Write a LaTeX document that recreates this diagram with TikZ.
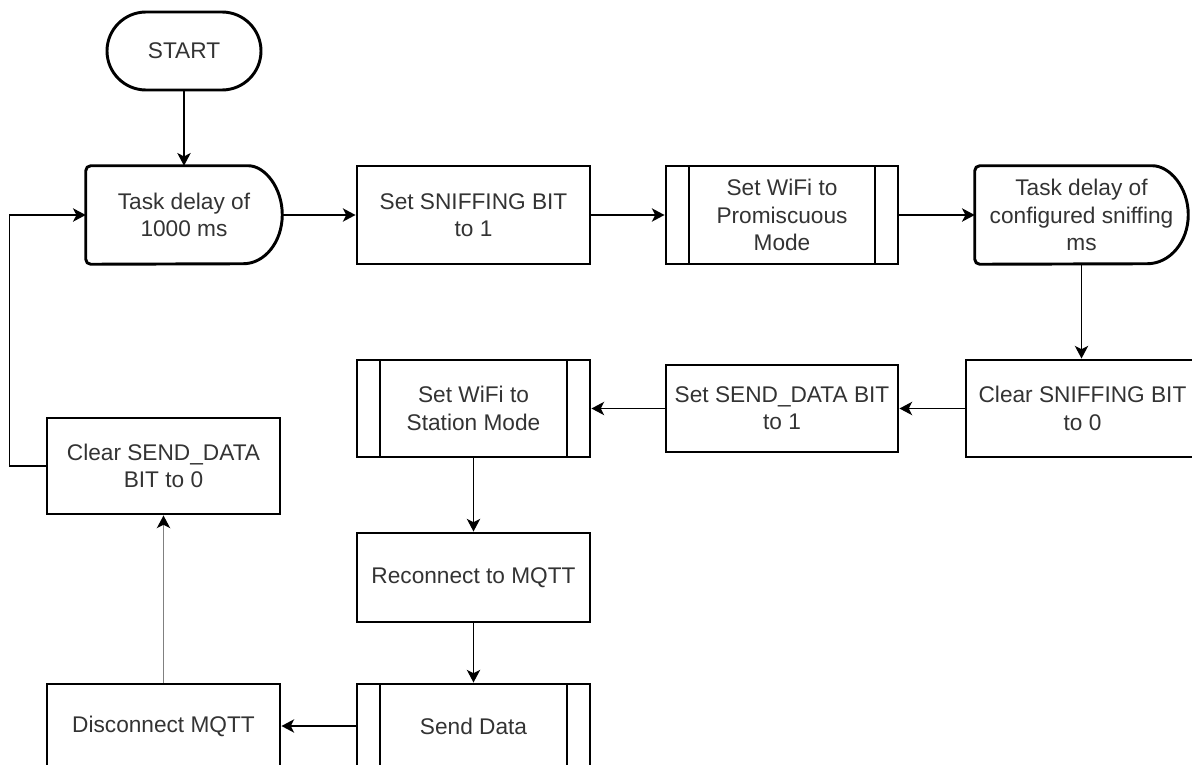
\documentclass[tikz,border=0pt]{standalone}
\usepackage{fontspec}
\setmainfont{Liberation Sans}
\usetikzlibrary{arrows.meta}
\newcommand\pxu{0.75pt}
% outline of a delay shape around an (undrawn) node: straight left side with
% small rounded corners, half-ellipse on the right
\newcommand\delayoutline[2]{%
  \draw[shapeline] ([xshift=-#2*\pxu]#1.north east)
    arc[start angle=90, end angle=-90, x radius=#2*\pxu, y radius=49*\pxu]
    [rounded corners=5*\pxu] -- (#1.south west) -- (#1.north west) -- cycle;}

\begin{document}
\begin{tikzpicture}[x=0.75pt,y=-0.75pt,
  every node/.style={font=\fontsize{17pt}{20.5pt}\selectfont, text=black!80,
    align=center, inner sep=0pt},
  shapeline/.style={draw=black, line width=2.2pt},
  proc/.style={shapeline, rectangle, minimum width=233*\pxu, minimum height=#1*\pxu},
  proc/.default=97,
  subproc/.style={proc=#1, path picture={
      \draw[line width=2.2pt]
        ([xshift=23*\pxu]path picture bounding box.north west) --
        ([xshift=23*\pxu]path picture bounding box.south west)
        ([xshift=-23*\pxu]path picture bounding box.north east) --
        ([xshift=-23*\pxu]path picture bounding box.south east);}},
  subproc/.default=97,
  delaybox/.style={rectangle, minimum width=#1*\pxu, minimum height=98*\pxu},
  terminal/.style={shapeline, rectangle, rounded corners=39*\pxu,
    minimum width=154*\pxu, minimum height=78*\pxu},
  conn/.style={draw=black, line width=1.3pt,
    -{Stealth[length=9.5pt, width=10pt, inset=2.5pt, color=black]}}
]
\useasboundingbox (0,0) rectangle (1192,764);

% top row
\node[terminal] (start) at (184,51) {START};
\node[delaybox=196] (td1) at (184,215) {Task delay of\\1000 ms};
\delayoutline{td1}{39}
\node[proc=98] (s1) at (473.5,215) {Set SNIFFING BIT\\to 1};
\node[subproc=98, minimum width=232*\pxu] (wifi1) at (782,215)
  {Set WiFi to\\Promiscuous\\Mode};
\node[delaybox=213] (td2) at (1081.5,215)
  {Task delay of\\configured sniffing\\ms};
\delayoutline{td2}{41}

% second row
\node[proc=97] (cs) at (1082.5,408.5) {Clear SNIFFING BIT\\to 0};
\node[proc=87, minimum width=232*\pxu] (sd) at (782,408.5) {Set SEND\_DATA BIT\\to 1};
\node[subproc=97] (wifi2) at (473.5,408.5) {Set WiFi to\\Station Mode};
\node[proc=96] (csd) at (163.5,466) {Clear SEND\_DATA\\BIT to 0};

% lower part
\node[proc=89] (rc) at (473.5,577.5) {Reconnect to MQTT};
\node[subproc=84] (send) at (473.5,726) {Send Data};
\node[proc=84] (disc) at (163.5,726) {Disconnect MQTT};

% connectors
\draw[conn] (start) -- (td1);
\draw[conn] (td1.east) -- (s1.west);
\draw[conn] (s1) -- (wifi1);
\draw[conn] (wifi1) -- (td2.west);
\draw[conn] (td2.south) -- (td2.south |- cs.north);
\draw[conn] (cs) -- (sd);
\draw[conn] (sd) -- (wifi2);
\draw[conn] (wifi2) -- (rc);
\draw[conn] (rc) -- (send);
\draw[conn] (send) -- (disc);
\draw[conn, draw=black!50] (disc) -- (csd);
\draw[conn] (csd.west) -- ([xshift=-36*\pxu]csd.west) |- (td1.west);
\end{tikzpicture}
\end{document}
